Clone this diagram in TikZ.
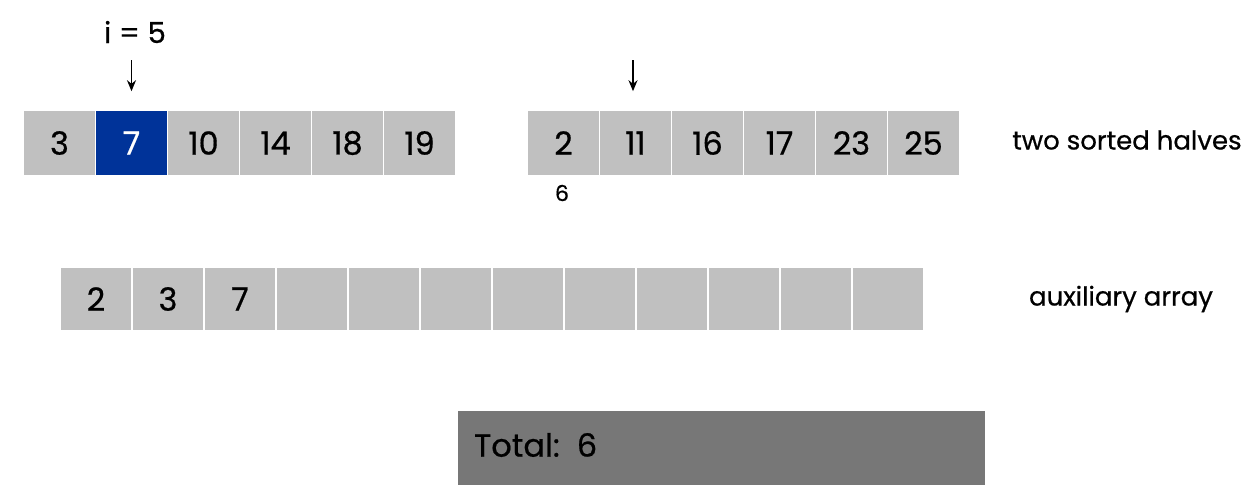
\documentclass[tikz,border=0pt]{standalone}
\usepackage{fontspec}
\setmainfont[FakeBold=0.6]{Poppins}
\usetikzlibrary{arrows.meta}
\definecolor{cellgray}{HTML}{C0C0C0}
\definecolor{hiblue}{HTML}{003399}
\definecolor{totgray}{HTML}{777777}
\tikzset{
  cell/.style={rectangle, fill=cellgray, draw=white, line width=0.8pt,
    minimum width=36pt, minimum height=33pt, inner sep=0pt,
    font=\fontsize{16}{19}\selectfont},
  auxcell/.style={cell, minimum height=32pt},
  hicell/.style={cell, fill=hiblue, text=white},
  ptr/.style={-{Stealth[length=5.5pt,width=4.5pt]}, line width=0.8pt},
  lbl/.style={font=\fontsize{13}{16}\selectfont, inner sep=0pt},
}
\begin{document}
\begin{tikzpicture}[x=0.5pt,y=-0.5pt]
\useasboundingbox (0,0) rectangle (1258,498);
% left half
\node[cell]   (l1) at (59.5,143)  {3};
\node[hicell] (l2) at (131.5,143) {7};
\node[cell]   (l3) at (203.5,143) {10};
\node[cell]   (l4) at (275.5,143) {14};
\node[cell]   (l5) at (347.5,143) {18};
\node[cell]   (l6) at (419.5,143) {19};
% right half
\node[cell] (r1) at (563.5,143) {2};
\node[cell] (r2) at (635.5,143) {11};
\node[cell] (r3) at (707.5,143) {16};
\node[cell] (r4) at (779.5,143) {17};
\node[cell] (r5) at (851.5,143) {23};
\node[cell] (r6) at (923.5,143) {25};
% pointers
\node[font=\fontsize{14.5}{17}\selectfont, inner sep=0pt] (ilabel) at (135,32) {i = 5};
\coordinate (p1s) at (131.5,60);
\coordinate (p2s) at (633,60);
\draw[ptr] (p1s) -- ([yshift=9pt]l2.north);
\draw[ptr] (p2s) -- ([yshift=9pt]l2.north -| p2s);
\node[font=\fontsize{11}{13}\selectfont, inner sep=0pt] (six) at (562,193) {6};
% auxiliary array
\node[auxcell] (a1) at (96,299) {2};
\node[auxcell] (a2) at (168,299) {3};
\node[auxcell] (a3) at (240,299) {7};
\node[auxcell] (a4) at (312,299) {};
\node[auxcell] (a5) at (384,299) {};
\node[auxcell] (a6) at (456,299) {};
\node[auxcell] (a7) at (528,299) {};
\node[auxcell] (a8) at (600,299) {};
\node[auxcell] (a9) at (672,299) {};
\node[auxcell] (a10) at (744,299) {};
\node[auxcell] (a11) at (816,299) {};
\node[auxcell] (a12) at (888,299) {};
% labels
\node[lbl] (halves) at (1127,140) {two sorted halves};
\node[lbl] (auxl) at (1121,299) {auxiliary array};
% total box
\node[rectangle, fill=totgray, minimum width=263.5pt, minimum height=37pt, inner sep=0pt] (total) at (721.5,448) {};
\node[anchor=west, font=\fontsize{16}{19}\selectfont, inner sep=0pt] (totaltxt) at ([xshift=8pt,yshift=1.5pt]total.west) {Total:\ \ 6};
\end{tikzpicture}
\end{document}
